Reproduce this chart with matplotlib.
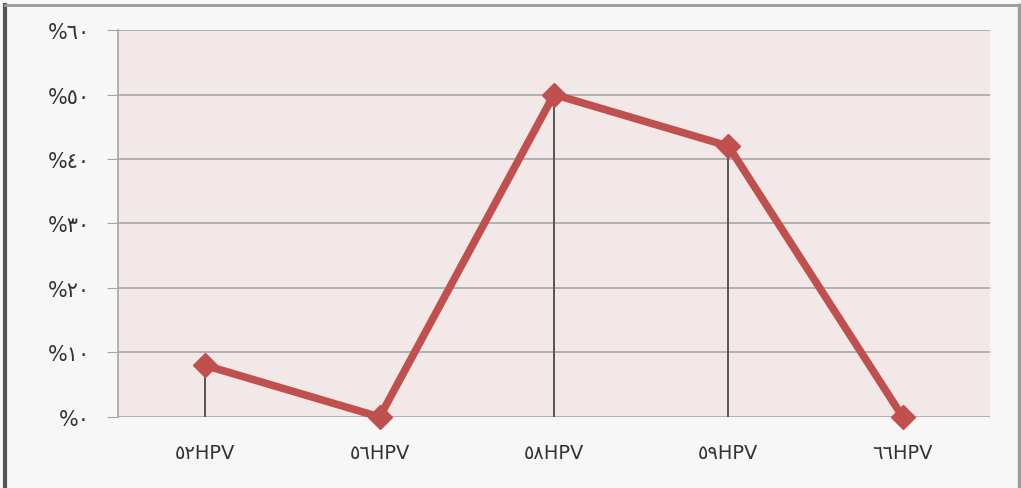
import matplotlib.pyplot as plt
from matplotlib.lines import Line2D

# chart data
categories = ['٥٢HPV', '٥٦HPV', '٥٨HPV', '٥٩HPV', '٦٦HPV']
values = [8, 0, 50, 42, 0]
y_ticks = [0, 10, 20, 30, 40, 50, 60]
y_labels = ['%٠', '%١٠', '%٢٠', '%٣٠', '%٤٠', '%٥٠', '%٦٠']

plt.rcParams['font.family'] = ['DejaVu Sans']

fig = plt.figure(figsize=(10.21, 4.89), dpi=100)
fig.patch.set_facecolor('#f7f7f7')
ax = fig.add_axes([0.1156, 0.1452, 0.854, 0.7914])

ax.set_facecolor('#f3e8e8')
x = list(range(len(categories)))
ax.set_xlim(-0.5, len(categories) - 0.5)
ax.set_ylim(0, 60)

# gridlines
for t in y_ticks:
    ax.axhline(t, color='#a6a6a6', lw=1.2, zorder=1)

# drop lines
for xi, v in zip(x, values):
    if v > 0:
        ax.plot([xi, xi], [0, v], color='#555555', lw=1.4, zorder=2)

ax.plot(x, values, color='#c0504d', lw=5.5, marker='D', markersize=12,
        markerfacecolor='#c0504d', markeredgecolor='#c0504d', zorder=3,
        solid_joinstyle='miter', clip_on=False)

ax.set_xticks(x)
ax.set_xticklabels(categories, fontsize=14, color='#333333')
ax.set_yticks(y_ticks)
ax.set_yticklabels(y_labels, fontsize=15, color='#333333')
ax.tick_params(axis='x', length=0, pad=19)
ax.tick_params(axis='y', length=8, color='#a6a6a6', pad=12)

for s in ['top', 'right', 'bottom']:
    ax.spines[s].set_visible(False)
ax.spines['left'].set_color('#a6a6a6')
ax.spines['left'].set_linewidth(1.2)

# outer frame (left, top, right)
fig.add_artist(Line2D([5 / 1021, 5 / 1021], [0, 1 - 6 / 489], transform=fig.transFigure,
                      color='#555555', lw=3))
fig.add_artist(Line2D([5 / 1021, 1019 / 1021], [1 - 6 / 489, 1 - 6 / 489], transform=fig.transFigure,
                      color='#9a9a9a', lw=2))
fig.add_artist(Line2D([1019 / 1021, 1019 / 1021], [0, 1 - 6 / 489], transform=fig.transFigure,
                      color='#9a9a9a', lw=2.5))

fig.savefig('out.png', dpi=100, facecolor=fig.get_facecolor())
